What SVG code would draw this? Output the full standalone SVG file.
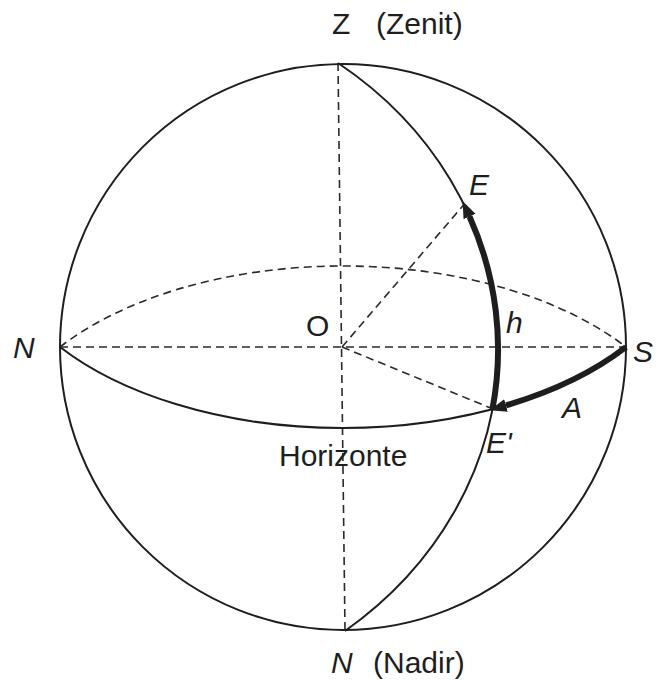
<svg xmlns="http://www.w3.org/2000/svg" width="656" height="680" viewBox="0 0 656 680">
<style>
.thin{fill:none;stroke:#1e1e1e;stroke-width:2}
.dash{fill:none;stroke:#2a2a2a;stroke-width:1.6;stroke-dasharray:8 5}
.thick{fill:none;stroke:#1e1e1e;stroke-width:6}
text{font-family:"Liberation Sans",Arial,sans-serif;font-size:30px;fill:#1e1e1e}
.it{font-style:italic}
</style>
<defs>
<marker id="ah" markerUnits="userSpaceOnUse" markerWidth="20" markerHeight="16" refX="0" refY="8" orient="auto" viewBox="0 0 20 16">
<path d="M0,1.5 L17,8 L0,14.5 z" fill="#1e1e1e"/>
</marker>
</defs>
<rect width="656" height="680" fill="#fff"/>
<g id="sphere">
<circle class="thin" cx="343" cy="347" r="283"/>
</g>
<g id="connectors">
<path class="dash" d="M338,63 L345,631"/>
<path class="dash" d="M60,347 L626,347"/>
<path class="dash" d="M60,347 A350,196.8 0 0 1 626,347"/>
<path class="dash" d="M342,347 L464,204.5"/>
<path class="dash" d="M342,347 L492.5,408.8"/>
<path class="thin" d="M60,347 A350,196.8 0 0 0 626,347"/>
<path class="thin" d="M338,63 A400,358 -0.7 0 1 345,631"/>
<path class="thick" d="M492.5,408.8 A400,358 -0.7 0 0 469.5,216.5" marker-end="url(#ah)"/>
<path class="thick" d="M626,347 A350,196.8 0 0 1 506,405.4" marker-end="url(#ah)"/>
</g>
<g id="Z"><text x="332" y="34">Z</text><text x="376" y="34">(Zenit)</text></g>
<g id="E"><text class="it" x="469" y="195">E</text></g>
<g id="h"><text class="it" x="506" y="333">h</text></g>
<g id="O"><text x="306" y="336">O</text></g>
<g id="N"><text class="it" x="13" y="358">N</text></g>
<g id="S"><text class="it" x="633" y="362">S</text></g>
<g id="A"><text class="it" x="562" y="418">A</text></g>
<g id="Eprime"><text class="it" x="486" y="453">E'</text></g>
<g id="horizonte"><text x="279" y="466">Horizonte</text></g>
<g id="Nadir"><text class="it" x="331" y="673">N</text><text x="373" y="673">(Nadir)</text></g>
</svg>
